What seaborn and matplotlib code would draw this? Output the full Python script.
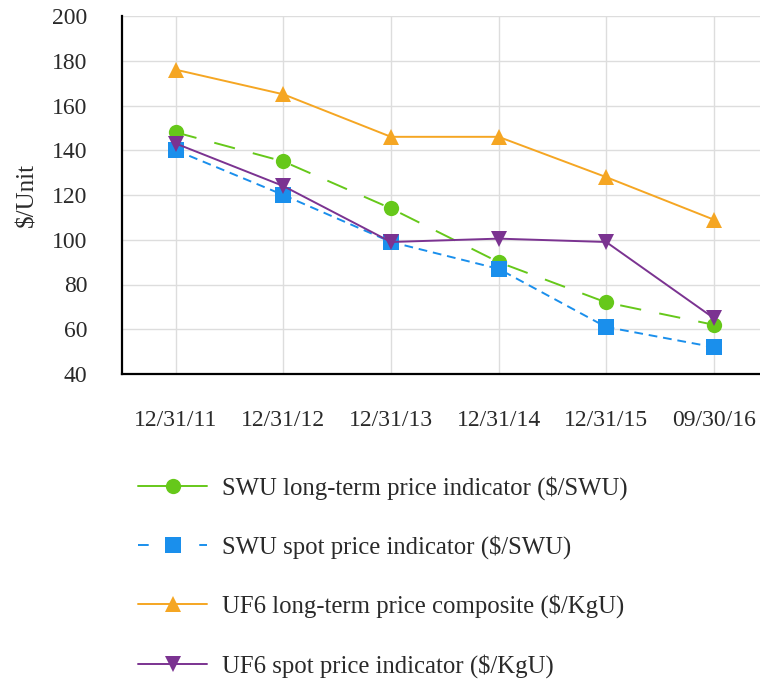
import matplotlib
matplotlib.use("Agg")
import matplotlib.pyplot as plt
import seaborn as sns
import pandas as pd

categories = ["12/31/11", "12/31/12", "12/31/13", "12/31/14", "12/31/15", "09/30/16"]
swu_long = [148, 135, 114, 90, 72, 62]
swu_spot = [140, 120, 99, 87, 61, 52]
uf6_long = [176, 165, 146, 146, 128, 109]
uf6_spot = [143, 124, 99, 100.5, 99, 65]

series_names = [
    "SWU long-term price indicator ($/SWU)",
    "SWU spot price indicator ($/SWU)",
    "UF6 long-term price composite ($/KgU)",
    "UF6 spot price indicator ($/KgU)",
]
series_values = [swu_long, swu_spot, uf6_long, uf6_spot]
colors = ["#66c81a", "#1a8fec", "#f5a623", "#7b3391"]
markers = ["o", "s", "^", "v"]
dashes = [(11, 9.5), (4.5, 3), (), ()]
legend_dashes = [(), (5.5, 26), (), ()]

sns.set_theme(style="whitegrid")
plt.rcParams["font.family"] = ["Liberation Serif", "DejaVu Serif"]
plt.rcParams["text.color"] = "#2a2a2a"

fig = plt.figure(figsize=(7.6, 6.81), dpi=100)
ax = fig.add_axes([122 / 760, 1 - 374 / 681, 1 - 122 / 760, (374 - 16) / 681])

handles = []
for name, vals, c, m, d in zip(series_names, series_values, colors, markers, dashes):
    df = pd.DataFrame({"x": range(len(categories)), "y": vals})
    sns.lineplot(data=df, x="x", y="y", ax=ax, color=c, marker=m, markersize=11,
                 markeredgewidth=0, linewidth=1.4, label=name)
    line = ax.lines[-1]
    if d:
        line.set_dashes(d)
    handles.append(line)

ax.set_xlim(-0.5, 5.43)
ax.set_ylim(40, 200)
ax.set_yticks(range(40, 201, 20))
ax.set_xticks(range(len(categories)))
ax.set_xticklabels(categories)
ax.set_xlabel("")
ax.set_ylabel("")

ax.grid(True, color="#dddddd", linewidth=1.0)
for s in ["top", "right"]:
    ax.spines[s].set_visible(False)
for s in ["left", "bottom"]:
    ax.spines[s].set_visible(True)
    ax.spines[s].set_color("black")
    ax.spines[s].set_linewidth(1.6)
ax.tick_params(axis="both", which="major", length=8, width=1, color="#999999",
               labelsize=17, labelcolor="#2a2a2a", direction="out")
ax.tick_params(axis="y", pad=17)
ax.tick_params(axis="x", pad=18)
ax.set_facecolor("white")

fig.text(27 / 760, 1 - 195 / 681, "$/Unit", rotation=90, ha="center", va="center",
         fontsize=18, color="#2a2a2a")

ax.get_legend().remove()
leg = fig.legend(handles=handles, labels=series_names, loc="upper left",
                 bbox_to_anchor=(128 / 760, 1 - 466 / 681), frameon=False,
                 fontsize=17.8, handlelength=2.8, handletextpad=0.6, labelspacing=1.43,
                 borderaxespad=0)
for lline, ld in zip(leg.get_lines(), legend_dashes):
    if ld:
        lline.set_dashes(ld)
    else:
        lline.set_linestyle("-")

fig.savefig("out.png", dpi=100, facecolor="white")
